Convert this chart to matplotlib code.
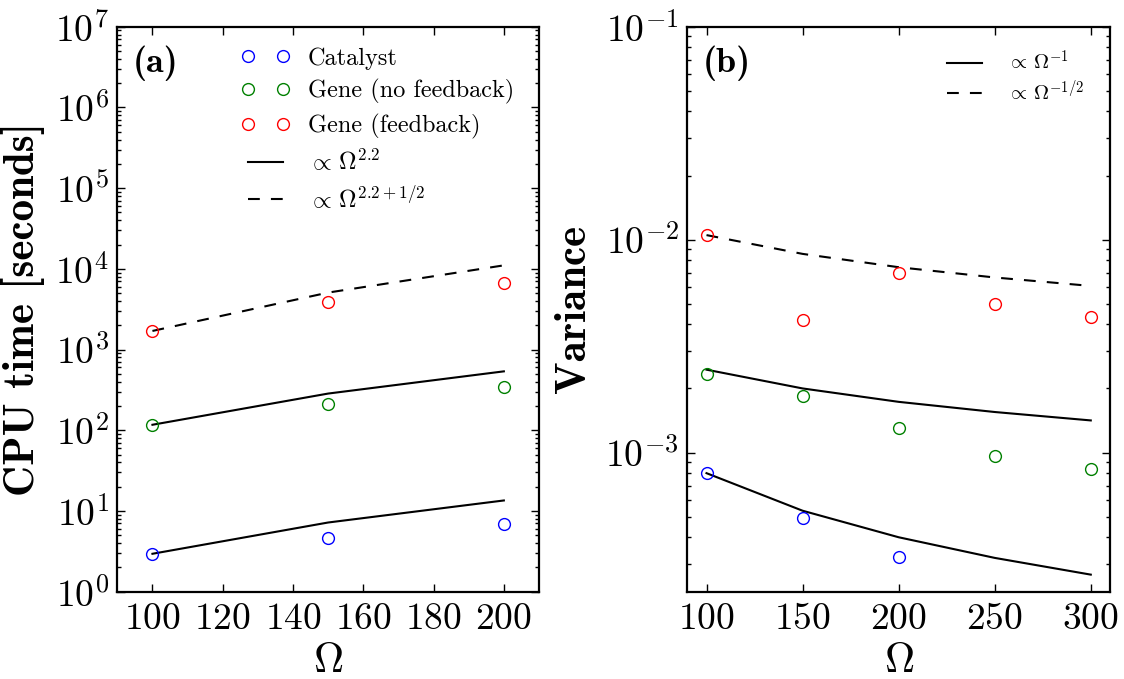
import matplotlib
matplotlib.use("Agg")
import matplotlib.pyplot as plt
from matplotlib.lines import Line2D
from matplotlib.legend_handler import HandlerLine2D
from matplotlib.ticker import LogLocator, NullFormatter

# ---------------- data ----------------
omega_a = [100, 150, 200]
cpu_catalyst = [2.9, 4.6, 6.9]
cpu_gene_nofb = [117, 211, 346]
cpu_gene_fb = [1700, 3850, 6630]
fit_a_low = [2.95, 7.2, 13.5]
fit_a_mid = [117, 285, 537]
fit_a_dash = [1700, 5080, 11050]

omega_b = [100, 150, 200, 250, 300]
omega_b_cat = [100, 150, 200]
var_catalyst = [8.0e-4, 4.9e-4, 3.22e-4]
var_gene_nofb = [2.35e-3, 1.85e-3, 1.30e-3, 9.64e-4, 8.38e-4]
var_gene_fb = [1.05e-2, 4.17e-3, 6.97e-3, 5.01e-3, 4.31e-3]
fit_b_low = [8.0e-4, 5.33e-4, 4.0e-4, 3.2e-4, 2.67e-4]
fit_b_mid = [2.45e-3, 2.0e-3, 1.73e-3, 1.55e-3, 1.415e-3]
fit_b_dash = [1.05e-2, 8.57e-3, 7.42e-3, 6.64e-3, 6.06e-3]

xticks_a = [100, 120, 140, 160, 180, 200]
xticks_b = [100, 150, 200, 250, 300]

legend_a = ["Catalyst", "Gene (no feedback)", "Gene (feedback)",
            r"$\propto\,\Omega^{2.2}$", r"$\propto\,\Omega^{2.2+1/2}$"]
legend_b = [r"$\propto\,\Omega^{-1}$", r"$\propto\,\Omega^{-1/2}$"]

# ---------------- style ----------------
plt.rcParams.update({
    "font.family": "cmr10",
    "mathtext.fontset": "cm",
    "axes.formatter.use_mathtext": True,
    "axes.linewidth": 1.6,
    "lines.scale_dashes": False,
    "xtick.direction": "in",
    "ytick.direction": "in",
    "xtick.top": True,
    "ytick.right": True,
    "xtick.major.size": 5.5,
    "ytick.major.size": 5.5,
    "xtick.minor.size": 3,
    "ytick.minor.size": 3,
    "xtick.major.width": 1.0,
    "ytick.major.width": 1.0,
    "xtick.minor.width": 1.0,
    "ytick.minor.width": 1.0,
    "xtick.major.pad": 8,
    "ytick.major.pad": 6,
    "xtick.labelsize": 27,
    "ytick.labelsize": 27,
})

BLUE, GREEN, RED = "#0000ff", "#008000", "#ff0000"
MS, MEW, LW = 8.5, 1.0, 1.5
DASH = (8.5, 8)

W, H = 1124, 679
fig = plt.figure(figsize=(W / 100, H / 100), dpi=100)
ax1 = fig.add_axes([117.3 / W, (H - 591.7) / H, 421.7 / W, 565 / H])
ax2 = fig.add_axes([687.3 / W, (H - 591.7) / H, 422.7 / W, 565 / H])


def pts(ax, x, y, c):
    ax.plot(x, y, ls="none", marker="o", mfc="none", mec=c, ms=MS, mew=MEW)


def log_ticks(ax):
    ax.yaxis.set_major_locator(LogLocator(base=10, numticks=30))
    ax.yaxis.set_minor_locator(LogLocator(base=10, subs=range(2, 10), numticks=30))
    ax.yaxis.set_minor_formatter(NullFormatter())


# ---------------- panel (a) ----------------
ax1.plot(omega_a, fit_a_low, color="k", lw=LW)
ax1.plot(omega_a, fit_a_mid, color="k", lw=LW)
ax1.plot(omega_a, fit_a_dash, color="k", lw=LW, ls="--", dashes=DASH)
pts(ax1, omega_a, cpu_catalyst, BLUE)
pts(ax1, omega_a, cpu_gene_nofb, GREEN)
pts(ax1, omega_a, cpu_gene_fb, RED)
ax1.set_yscale("log")
log_ticks(ax1)
ax1.set_xlim(90, 210)
ax1.set_ylim(1, 1e7)
ax1.set_xticks(xticks_a)
ax1.set_xlabel(r"$\Omega$", fontsize=30, labelpad=5)
ax1.set_ylabel("CPU time [seconds]", fontsize=31, family="cmb10")
ax1.yaxis.set_label_coords(-0.172, 0.5)
ax1.text(0.036, 0.936, "(a)", transform=ax1.transAxes, fontsize=26,
         family="cmb10", ha="left", va="center")

hmap = {Line2D: HandlerLine2D(marker_pad=0)}
handles_a = [
    Line2D([], [], ls="none", marker="o", mfc="none", mec=BLUE, ms=MS, mew=MEW),
    Line2D([], [], ls="none", marker="o", mfc="none", mec=GREEN, ms=MS, mew=MEW),
    Line2D([], [], ls="none", marker="o", mfc="none", mec=RED, ms=MS, mew=MEW),
    Line2D([], [], color="k", lw=LW),
    Line2D([], [], color="k", lw=LW, ls="--", dashes=(8.5, 8)),
]
ax1.legend(handles_a, legend_a, loc="upper left",
           bbox_to_anchor=((247.7 - 117.3) / 421.7, (591.7 - 47) / 565),
           frameon=False, numpoints=2, fontsize=17.5, handlelength=1.45,
           handletextpad=1.03, labelspacing=0.4, borderpad=0,
           borderaxespad=0, handler_map=hmap)

# ---------------- panel (b) ----------------
ax2.plot(omega_b, fit_b_low, color="k", lw=LW)
ax2.plot(omega_b, fit_b_mid, color="k", lw=LW)
ax2.plot(omega_b, fit_b_dash, color="k", lw=LW, ls="--", dashes=DASH)
pts(ax2, omega_b_cat, var_catalyst, BLUE)
pts(ax2, omega_b, var_gene_nofb, GREEN)
pts(ax2, omega_b, var_gene_fb, RED)
ax2.set_yscale("log")
log_ticks(ax2)
ax2.set_xlim(90, 310)
ax2.set_ylim(2.22e-4, 1e-1)
ax2.set_xticks(xticks_b)
ax2.set_xlabel(r"$\Omega$", fontsize=30, labelpad=5)
ax2.set_ylabel("Variance", fontsize=31, family="cmb10")
ax2.yaxis.set_label_coords(-0.221, 0.5)
ax2.text(0.037, 0.936, "(b)", transform=ax2.transAxes, fontsize=26,
         family="cmb10", ha="left", va="center")

handles_b = [
    Line2D([], [], color="k", lw=LW),
    Line2D([], [], color="k", lw=LW, ls="--", dashes=(8.5, 8)),
]
ax2.legend(handles_b, legend_b, loc="upper left",
           bbox_to_anchor=((947 - 687.3) / 422.7, (591.7 - 50) / 565),
           frameon=False, fontsize=15, handlelength=1.7,
           handletextpad=1.2, labelspacing=0.25, borderpad=0,
           borderaxespad=0, handler_map=hmap)

fig.savefig("out.png", dpi=100)
